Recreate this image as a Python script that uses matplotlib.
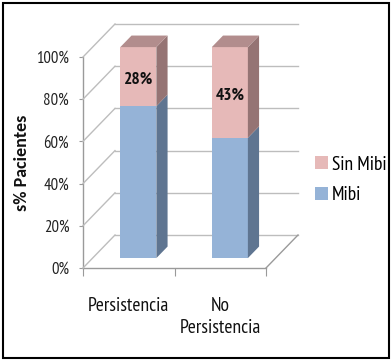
import numpy as np
import matplotlib
matplotlib.use("Agg")
import matplotlib.pyplot as plt
from matplotlib.patches import Polygon, Rectangle, Patch
from matplotlib.transforms import IdentityTransform

# data
categories = ["Persistencia", "No\nPersistencia"]
mibi = [72, 57]
sin_mibi = [28, 43]
yticks = [0, 20, 40, 60, 80, 100]

# style
c_mibi = ("#95B3D7", "#5F7591")      # front, side
c_sin = ("#E6B9B8", "#957474", "#B28D8D")  # front, side, top
grid_c = "#BDBDBD"
axis_c = "#9A9A9A"
narrow = ["PT Sans Narrow", "Carlito", "DejaVu Sans"]
plt.rcParams["font.family"] = narrow

W, H = 391, 360
fig = plt.figure(figsize=(W / 100, H / 100), dpi=100)
ax = fig.add_axes([83 / W, (H - 268) / H, (266 - 83) / W, (268 - 57) / H])
ax.set_xlim(-0.5, 1.5)
ax.set_ylim(0, 100)
ax.patch.set_visible(False)
for s in ["top", "right"]:
    ax.spines[s].set_visible(False)
for s in ["left", "bottom"]:
    ax.spines[s].set_color(axis_c)
    ax.spines[s].set_linewidth(1.0)

ax.set_yticks(yticks)
ax.set_yticklabels([f"{t}%" for t in yticks], fontsize=12, color="#222222")
ax.tick_params(axis="y", length=3, color=axis_c, pad=7)
ax.set_xticks([-0.5, 0.5, 1.5])
ax.set_xticklabels([])
ax.tick_params(axis="x", which="major", length=6, color=axis_c)
ax.set_xticks([0, 1], minor=True)
ax.set_xticklabels(categories, minor=True, fontsize=14, linespacing=1.3,
                   color="#111111")
ax.tick_params(axis="x", which="minor", length=0, pad=21)

fig.text(22 / W, 1 - 163 / H, "s% Pacientes", rotation=90, ha="center",
         va="center", fontweight="bold", fontsize=13, color="#111111",
         family=["Carlito", "DejaVu Sans"])

DX, DY = 32, 33  # depth offset in pixels


def P(x, v, d):
    p = ax.transData.transform((x, v))
    return (p[0] + DX * d, p[1] + DY * d)


def poly(pts, color, z=3, ec="none"):
    fig.patches.append(Polygon(pts, closed=True, facecolor=color, edgecolor=ec,
                               lw=0.8, transform=IdentityTransform(), zorder=z,
                               figure=fig))


def line(a, b, color=grid_c, lw=1.0, z=1):
    fig.add_artist(plt.Line2D([a[0], b[0]], [a[1], b[1]], color=color, lw=lw,
                              transform=IdentityTransform(), zorder=z))


# walls and floor
for t in yticks:
    line(P(-0.5, t, 0), P(-0.5, t, 1))
    line(P(-0.5, t, 1), P(1.5, t, 1))
line(P(1.5, 0, 0), P(1.5, 0, 1), color=axis_c)

# bars
hw = 0.197
d0, d1 = 0.3, 0.65
for i, (m, s) in enumerate(zip(mibi, sin_mibi)):
    x0, x1 = i - hw, i + hw
    segs = [(0, m, c_mibi), (m, m + s, c_sin)]
    for lo, hi, cols in segs:
        poly([P(x0, lo, d0), P(x1, lo, d0), P(x1, hi, d0), P(x0, hi, d0)], cols[0])
        poly([P(x1, lo, d0), P(x1, lo, d1), P(x1, hi, d1), P(x1, hi, d0)], cols[1])
    top = m + s
    poly([P(x0, top, d0), P(x1, top, d0), P(x1, top, d1), P(x0, top, d1)], c_sin[2])
    cx, cy = P(i, m + s / 2, d0)
    fig.text(cx / W, cy / H - 0.008, f"{s}%", ha="center", va="center", fontsize=12.5,
             fontweight="bold", color="#111111", zorder=6)

# legend
handles = [Patch(facecolor=c_sin[0], edgecolor="none", label="Sin Mibi"),
           Patch(facecolor=c_mibi[0], edgecolor="none", label="Mibi")]
fig.legend(handles=handles, loc="center left", bbox_to_anchor=(315 / W, 1 - 180 / H),
           frameon=False, fontsize=14, handlelength=0.65, handleheight=0.65,
           handletextpad=0.2, labelspacing=0.65, borderpad=0, borderaxespad=0)

# outer frame
fig.patches.append(Rectangle((2.5 / W, 2.5 / H), (W - 5) / W, (H - 5) / H,
                             transform=fig.transFigure, fill=False,
                             edgecolor="black", lw=1.5, figure=fig))

fig.savefig("out.png", dpi=100)
